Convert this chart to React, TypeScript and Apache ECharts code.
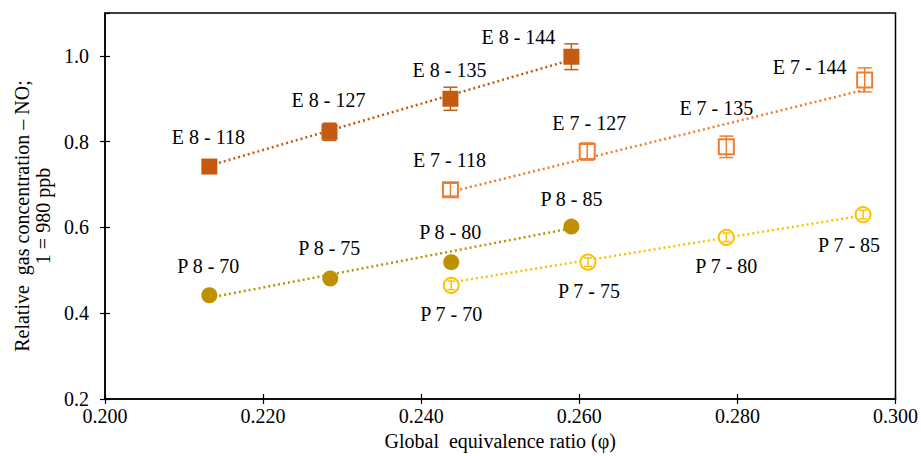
import React, { useEffect, useRef } from "react";
import * as echarts from "echarts";

// ---- data ----
const xE8 = [0.2132, 0.2284, 0.2437, 0.259];
const yE8 = [0.742, 0.823, 0.9, 0.998];
const errE8 = [0.015, 0.02, 0.027, 0.03];
const labE8 = ["E 8 - 118", "E 8 - 127", "E 8 - 135", "E 8 - 144"];

const xE7 = [0.2437, 0.261, 0.2786, 0.2961];
const yE7 = [0.688, 0.777, 0.788, 0.944];
const errE7 = [0.015, 0.02, 0.025, 0.028];
const labE7 = ["E 7 - 118", "E 7 - 127", "E 7 - 135", "E 7 - 144"];

const xP8 = [0.2132, 0.2285, 0.2438, 0.259];
const yP8 = [0.442, 0.481, 0.519, 0.602];
const labP8 = ["P 8 - 70", "P 8 - 75", "P 8 - 80", "P 8 - 85"];

const xP7 = [0.2438, 0.2611, 0.2786, 0.2959];
const yP7 = [0.465, 0.519, 0.577, 0.63];
const errP7 = [0.01, 0.01, 0.01, 0.01];
const labP7 = ["P 7 - 70", "P 7 - 75", "P 7 - 80", "P 7 - 85"];

// trendline end points
const trendE8 = [[0.2132, 0.744], [0.259, 0.991]];
const trendE7 = [[0.2437, 0.683], [0.2961, 0.921]];
const trendP8 = [[0.2132, 0.436], [0.259, 0.598]];
const trendP7 = [[0.2438, 0.472], [0.2959, 0.628]];

const xTicks = [0.2, 0.22, 0.24, 0.26, 0.28, 0.3];
const yTicks = [0.2, 0.4, 0.6, 0.8, 1.0];

// label placement (pixels from marker centre)
const offE8 = [[-1, -30], [-1, -32], [-1, -29], [-53, -20]];
const offE7 = [[-1, -30], [2, -29], [-10, -39], [-55, -13]];
const offP8 = [[-1, -29], [-1, -30], [-1, -30], [0, -28]];
const offP7 = [[0, 29], [1, 29], [0, 29], [-14, 30]];

const C_E8 = "#C55A11";
const C_E7 = "#ED7D31";
const C_P8 = "#BF9000";
const C_P7 = "#FFC000";
const FONT = "'Liberation Serif', 'Times New Roman', serif";
const FS = 20;

function pts(xs: number[], ys: number[], labs: string[], offs: number[][]) {
  return xs.map((x, i) => ({
    value: [x, ys[i]],
    name: labs[i],
    label: { offset: offs[i] },
  }));
}

function errData(xs: number[], ys: number[], es: number[]) {
  return xs.map((x, i) => [x, ys[i], es[i]]);
}

function errSeries(data: number[][], color: string, cap: number) {
  return {
    type: "custom",
    z: 5,
    silent: true,
    data,
    renderItem: (params: any, api: any) => {
      const x = api.value(0);
      const y = api.value(1);
      const e = api.value(2);
      const top = api.coord([x, y + e]);
      const bot = api.coord([x, y - e]);
      const st = { stroke: color, lineWidth: 1.5 };
      return {
        type: "group",
        children: [
          { type: "line", shape: { x1: top[0], y1: top[1], x2: bot[0], y2: bot[1] }, style: st },
          { type: "line", shape: { x1: top[0] - cap, y1: top[1], x2: top[0] + cap, y2: top[1] }, style: st },
          { type: "line", shape: { x1: bot[0] - cap, y1: bot[1], x2: bot[0] + cap, y2: bot[1] }, style: st },
        ],
      };
    },
  };
}

function trend(data: number[][], color: string) {
  return {
    type: "line",
    data,
    symbol: "none",
    silent: true,
    z: 1,
    lineStyle: { color, width: 2.5, type: [2, 3] },
  };
}

const labelStyle = {
  show: true,
  position: "inside",
  formatter: "{b}",
  color: "#000",
  fontFamily: FONT,
  fontSize: FS,
};

export default function App() {
  const ref = useRef<HTMLDivElement>(null);
  useEffect(() => {
    if (!ref.current) return;
    const chart = echarts.init(ref.current, undefined, { renderer: "svg" });
    const axisLabelBase = { color: "#000", fontFamily: FONT, fontSize: FS };
    chart.setOption({
      animation: false,
      backgroundColor: "#fff",
      grid: {
        left: 105,
        right: 25,
        top: 13,
        bottom: 56,
        show: true,
        borderColor: "#000",
        borderWidth: 1.5,
      },
      xAxis: [
        {
          type: "value",
          min: xTicks[0],
          max: xTicks[xTicks.length - 1],
          interval: 0.02,
          name: "Global  equivalence ratio (φ)",
          nameLocation: "middle",
          nameGap: 32,
          nameTextStyle: { color: "#000", fontFamily: FONT, fontSize: FS },
          axisLine: { lineStyle: { color: "#000", width: 1.5 } },
          axisTick: { show: true, length: 5, lineStyle: { color: "#000", width: 1.2 } },
          splitLine: { show: false },
          axisLabel: { ...axisLabelBase, margin: 7, formatter: (v: number) => v.toFixed(3) },
        },
        {
          type: "value",
          position: "bottom",
          min: xTicks[0],
          max: xTicks[xTicks.length - 1],
          interval: 0.02,
          axisLine: { show: false },
          axisTick: { show: true, inside: true, length: 5, lineStyle: { color: "#000", width: 1.2 } },
          axisLabel: { show: false },
          splitLine: { show: false },
        },
      ],
      yAxis: [
        {
          type: "value",
          min: yTicks[0],
          max: 1.1,
          interval: 0.2,
          name: "Relative  gas concentration – NO;\n1 = 980 ppb",
          nameLocation: "middle",
          nameGap: 52,
          nameTextStyle: {
            color: "#000",
            fontFamily: FONT,
            fontSize: FS,
            lineHeight: 21,
            padding: [0, 20, 0, 0],
          },
          axisLine: { show: true, lineStyle: { color: "#000", width: 1.5 } },
          axisTick: { show: true, length: 5, lineStyle: { color: "#000", width: 1.2 } },
          splitLine: { show: false },
          axisLabel: {
            ...axisLabelBase,
            margin: 16,
            showMaxLabel: false,
            formatter: (v: number) => (v > 1.05 ? "" : v.toFixed(1)),
          },
        },
        {
          type: "value",
          position: "left",
          min: yTicks[0],
          max: 1.1,
          interval: 0.2,
          axisLine: { show: false },
          axisTick: { show: true, inside: true, length: 5, lineStyle: { color: "#000", width: 1.2 } },
          axisLabel: { show: false },
          splitLine: { show: false },
        },
      ],
      series: [
        trend(trendE8, C_E8),
        trend(trendE7, C_E7),
        trend(trendP8, C_P8),
        trend(trendP7, C_P7),
        {
          type: "scatter",
          z: 3,
          symbol: "rect",
          symbolSize: 16,
          itemStyle: { color: C_E8, opacity: 1 },
          label: labelStyle,
          data: pts(xE8, yE8, labE8, offE8),
        },
        {
          type: "scatter",
          z: 3,
          symbol: "rect",
          symbolSize: 15,
          itemStyle: { color: "#fff", borderColor: C_E7, borderWidth: 2, opacity: 1 },
          label: labelStyle,
          data: pts(xE7, yE7, labE7, offE7),
        },
        {
          type: "scatter",
          z: 3,
          symbol: "circle",
          symbolSize: 16,
          itemStyle: { color: C_P8, opacity: 1 },
          label: labelStyle,
          data: pts(xP8, yP8, labP8, offP8),
        },
        {
          type: "scatter",
          z: 3,
          symbol: "circle",
          symbolSize: 15,
          itemStyle: { color: "#fff", borderColor: C_P7, borderWidth: 2, opacity: 1 },
          label: labelStyle,
          data: pts(xP7, yP7, labP7, offP7),
        },
        errSeries(errData(xE8, yE8, errE8), C_E8, 7),
        errSeries(errData(xE7, yE7, errE7), C_E7, 7),
        errSeries(errData(xP7, yP7, errP7), C_P7, 4),
      ],
    });
    return () => chart.dispose();
  }, []);
  return (
    <div
      ref={ref}
      style={{ position: "fixed", left: 0, top: 0, width: 921, height: 456 }}
    />
  );
}
